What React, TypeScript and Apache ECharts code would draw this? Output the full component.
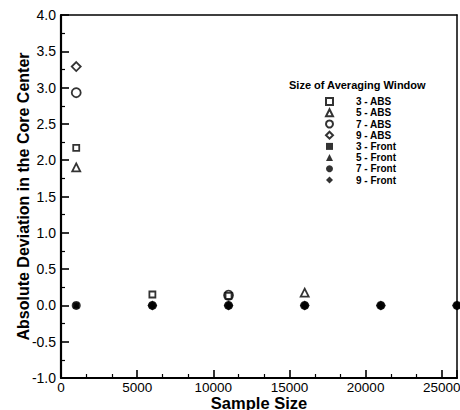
import React, { useEffect, useRef } from "react";
import * as echarts from "echarts";

// Sample sizes (x) and absolute deviations (y) per averaging window
const abs3: [number, number][] = [[1000, 2.17], [6000, 0.15], [11000, 0.13]];
const abs5: [number, number][] = [[1000, 1.9], [16000, 0.175]];
const abs7: [number, number][] = [[1000, 2.93], [11000, 0.14]];
const abs9: [number, number][] = [[1000, 3.29]];
const front3: [number, number][] = [[1000, 0], [6000, 0], [11000, 0], [16000, 0], [21000, 0], [26000, 0]];
const front5: [number, number][] = [[1000, 0], [6000, 0], [11000, 0], [16000, 0], [21000, 0], [26000, 0]];
const front7: [number, number][] = [[1000, 0], [6000, 0], [11000, 0], [16000, 0], [21000, 0], [26000, 0]];
const front9: [number, number][] = [[6000, 0], [11000, 0], [16000, 0], [21000, 0], [26000, 0]];

const seriesNames = [
  "3 - ABS", "5 - ABS", "7 - ABS", "9 - ABS",
  "3 - Front", "5 - Front", "7 - Front", "9 - Front",
];

const FONT = "Liberation Sans, Arial, sans-serif";

export default function App() {
  const ref = useRef<HTMLDivElement>(null);

  useEffect(() => {
    if (!ref.current) return;
    const chart = echarts.init(ref.current, null, { renderer: "svg" });

    const hollow = { color: "#fff", borderColor: "#000", borderWidth: 1.8 };
    const solid = { color: "#000", borderWidth: 0 };

    const mk = (name: string, data: [number, number][], symbol: string, size: number, style: any, z: number) => ({
      name,
      type: "scatter",
      data,
      symbol,
      symbolSize: size,
      itemStyle: style,
      z,
    });

    // Frame lines on top and right, without ticks or labels
    const frame = { show: true, lineStyle: { color: "#000", width: 1.5 } };

    chart.setOption({
      animation: false,
      textStyle: { fontFamily: FONT },
      grid: {
        left: 61, top: 15, right: 3, bottom: 32,
        outerBoundsMode: "none",
        containLabel: false,
      },
      graphic: [
        {
          type: "text",
          x: 289, y: 79,
          style: { text: "Size of Averaging Window", font: `bold 11px ${FONT}`, fill: "#000" },
          z: 10,
        },
      ],
      legend: {
        orient: "vertical",
        left: 325, top: 96,
        itemWidth: 7, itemHeight: 7, itemGap: 0,
        padding: 0,
        data: seriesNames,
        textStyle: {
          fontFamily: FONT, fontSize: 10, fontWeight: "bold", color: "#000",
          lineHeight: 11.2, padding: [0, 0, 0, 18],
        },
      },
      xAxis: [
        {
          type: "value",
          position: "bottom",
          min: 0, max: 26000, interval: 5000,
          name: "Sample Size",
          nameLocation: "middle",
          nameGap: 16,
          nameMoveOverlap: false,
          nameTextStyle: { fontFamily: FONT, fontSize: 16.5, fontWeight: "bold", color: "#000" },
          axisLine: { show: true, onZero: false, lineStyle: { color: "#000", width: 2.2 } },
          axisTick: { show: true, inside: true, length: 8, lineStyle: { color: "#000", width: 1.6 } },
          minorTick: { show: true, splitNumber: 3, length: 4, lineStyle: { color: "#000", width: 1.2 } },
          axisLabel: {
            show: true, color: "#000", fontSize: 13.5, lineHeight: 13, fontFamily: FONT, margin: 3, showMaxLabel: false,
            formatter: (v: number) => String(v),
          },
          splitLine: { show: false },
        },
        {
          type: "value",
          position: "top",
          min: 0, max: 26000,
          axisLine: { ...frame, onZero: false },
          axisTick: { show: false },
          axisLabel: { show: false },
          splitLine: { show: false },
        },
      ],
      yAxis: [
        {
          type: "value",
          position: "left",
          min: -1, max: 4, interval: 0.5,
          name: "Absolute Deviation in the Core Center",
          nameLocation: "middle",
          nameGap: 30,
          nameMoveOverlap: false,
          nameTextStyle: { fontFamily: FONT, fontSize: 16, fontWeight: "bold", color: "#000" },
          axisLine: { show: true, onZero: false, lineStyle: { color: "#000", width: 2.2 } },
          axisTick: { show: true, inside: true, length: 8, lineStyle: { color: "#000", width: 1.6 } },
          minorTick: { show: true, splitNumber: 2, length: 4, lineStyle: { color: "#000", width: 1.2 } },
          axisLabel: {
            show: true, color: "#000", fontSize: 14, fontFamily: FONT, margin: 5,
            formatter: (v: number) => v.toFixed(1),
          },
          splitLine: { show: false },
        },
        {
          type: "value",
          position: "right",
          min: -1, max: 4,
          axisLine: { ...frame, onZero: false },
          axisTick: { show: false },
          axisLabel: { show: false },
          splitLine: { show: false },
        },
      ],
      series: [
        mk("3 - ABS", abs3, "rect", 6, hollow, 5),
        mk("5 - ABS", abs5, "triangle", 8, hollow, 5),
        mk("7 - ABS", abs7, "circle", 9, hollow, 4),
        mk("9 - ABS", abs9, "diamond", 9, hollow, 5),
        mk("3 - Front", front3, "rect", 6, solid, 2),
        mk("5 - Front", front5, "triangle", 6, solid, 2),
        mk("7 - Front", front7, "circle", 9, solid, 3),
        mk("9 - Front", front9, "diamond", 10, solid, 3),
      ],
    });

    return () => chart.dispose();
  }, []);

  return (
    <div
      ref={ref}
      style={{ position: "fixed", left: 0, top: 0, width: 460, height: 410, background: "#fff" }}
    />
  );
}
